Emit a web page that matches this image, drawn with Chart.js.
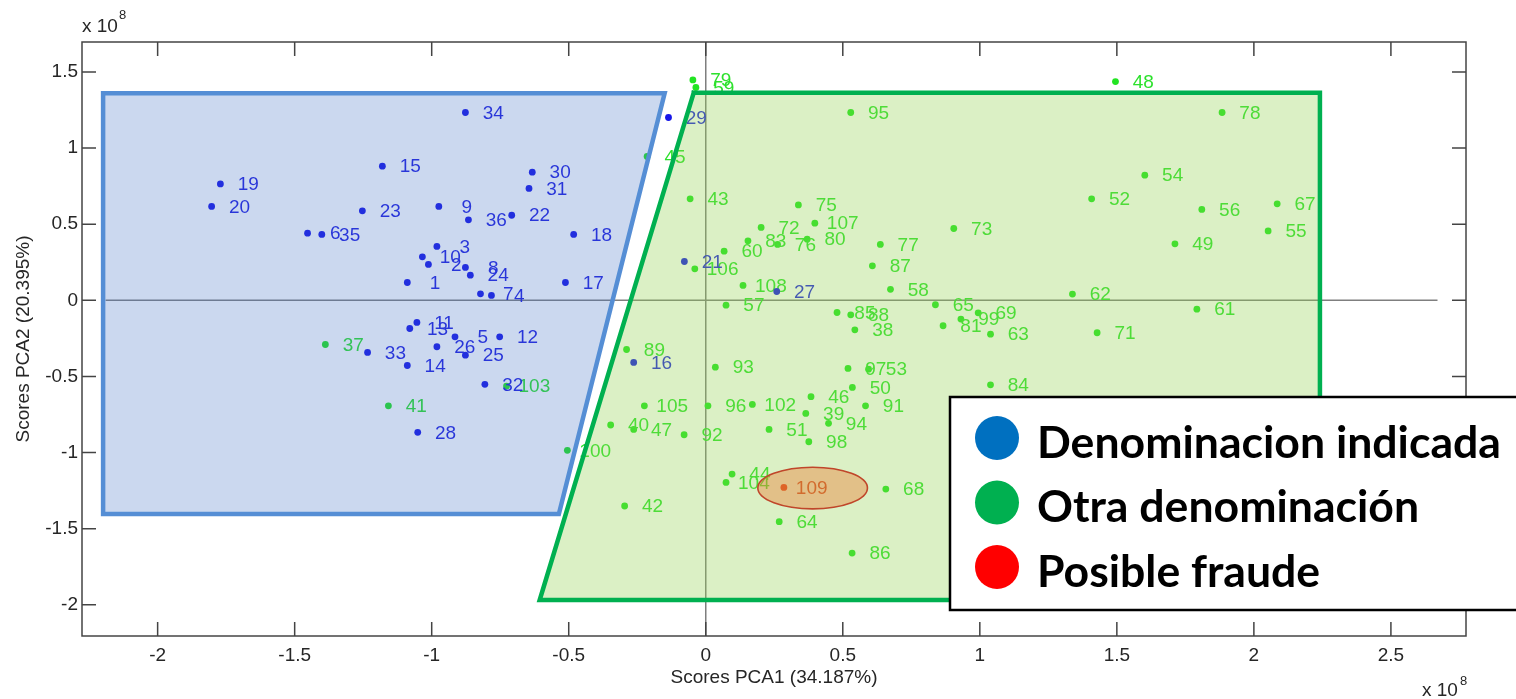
<!DOCTYPE html>
<html>
<head>
<meta charset="utf-8">
<title>Scores PCA</title>
<script src="https://cdn.jsdelivr.net/npm/chart.js@4.4.1/dist/chart.umd.min.js"></script>
<style>
  html, body { margin: 0; padding: 0; background: #fff; }
  canvas { display: block; }
</style>
</head>
<body>
<canvas id="pcaChart" width="1516" height="699"></canvas>
<script>
// scores in units of 1e8
const blueIds = [1, 2, 3, 4, 5, 6, 7, 8, 9, 10, 11, 12, 13, 14, 15, 16, 17, 18,
  19, 20, 21, 22, 23, 24, 25, 26, 27, 28, 29, 30, 31, 32, 33, 34, 35, 36];
const blueX = [-1.089, -1.012, -0.981, -0.782, -0.915, -1.453, -0.822, -0.877, -0.974, -1.034,
  -1.054, -0.752, -1.080, -1.089, -1.180, -0.263, -0.512, -0.482, -1.771, -1.803,
  -0.078, -0.708, -1.253, -0.859, -0.877, -0.981, 0.259, -1.051, -0.136, -0.633,
  -0.645, -0.806, -1.234, -0.877, -1.401, -0.866];
const blueY = [0.117, 0.236, 0.354, 0.032, -0.240, 0.441, 0.043, 0.216, 0.617, 0.286,
  -0.145, -0.240, -0.185, -0.428, 0.881, -0.408, 0.117, 0.433, 0.765, 0.617,
  0.255, 0.559, 0.588, 0.165, -0.360, -0.305, 0.058, -0.867, 1.201, 0.842,
  0.735, -0.552, -0.342, 1.234, 0.433, 0.529];

const greenIds = [37, 38, 39, 40, 41, 42, 43, 44, 45, 46, 47, 48, 49, 50, 51, 52, 53, 54,
  55, 56, 57, 58, 59, 60, 61, 62, 63, 64, 65, 67, 68, 69, 71, 72, 73, 75, 76, 77,
  78, 79, 80, 81, 83, 84, 85, 86, 87, 88, 89, 91, 92, 93, 94, 95, 96, 97, 98, 99,
  100, 102, 103, 104, 105, 106, 107, 108];
const greenX = [-1.388, 0.544, 0.365, -0.347, -1.158, -0.296, -0.057, 0.096, -0.214, 0.384,
  -0.263, 1.495, 1.712, 0.535, 0.231, 1.408, 0.594, 1.602, 2.052, 1.810,
  0.074, 0.674, -0.036, 0.067, 1.792, 1.338, 1.039, 0.268, 0.838, 2.085,
  0.657, 0.994, 1.428, 0.202, 0.905, 0.338, 0.262, 0.637, 1.884, -0.047,
  0.370, 0.866, 0.154, 1.039, 0.479, 0.534, 0.608, 0.529, -0.289, 0.583,
  -0.079, 0.035, 0.448, 0.529, 0.008, 0.519, 0.376, 0.931, -0.505, 0.170,
  -0.727, 0.074, -0.224, -0.040, 0.398, 0.136];
const greenY = [-0.290, -0.194, -0.743, -0.819, -0.693, -1.351, 0.667, -1.141, 0.945, -0.633,
  -0.848, 1.437, 0.371, -0.572, -0.848, 0.667, -0.452, 0.822, 0.456, 0.597,
  -0.032, 0.072, 1.398, 0.323, -0.058, 0.041, -0.222, -1.454, -0.029, 0.634,
  -1.240, -0.082, -0.213, 0.479, 0.472, 0.627, 0.367, 0.367, 1.234, 1.448,
  0.402, -0.167, 0.391, -0.555, -0.080, -1.660, 0.227, -0.095, -0.323, -0.693,
  -0.883, -0.439, -0.808, 1.234, -0.693, -0.447, -0.929, -0.123, -0.985, -0.684,
  -0.563, -1.196, -0.693, 0.207, 0.507, 0.098];

const redIds = [109];
const redX = [0.285];
const redY = [-1.229];

// group outlines and the highlight around the suspect sample
const blueZoneX = [-2.199, -0.150, -0.536, -2.199, -2.199];
const blueZoneY = [1.360, 1.360, -1.404, -1.404, 1.360];
const greenZoneX = [-0.044, 2.241, 2.241, -0.606, -0.044];
const greenZoneY = [1.364, 1.364, -1.969, -1.969, 1.364];
const fraudCenter = [0.39, -1.233];
const fraudRadius = [0.2, 0.137];

const xTitle = 'Scores PCA1 (34.187%)';
const yTitle = 'Scores PCA2 (20.395%)';
const legendItems = ['Denominacion indicada', 'Otra denominación', 'Posible fraude'];
const legendColors = ['#0070C0', '#00B050', '#FF0000'];

const AX_FONT = '"Liberation Sans", Arial, Helvetica, sans-serif';
const AX_COLOR = '#262626';

function toPoints(xs, ys) {
  return xs.map((x, i) => ({ x: x, y: ys[i] }));
}

function pointSet(ids, xs, ys, color, textColor) {
  return {
    data: toPoints(xs, ys),
    ids: ids,
    textColor: textColor,
    backgroundColor: color,
    borderWidth: 0,
    pointRadius: 3.4,
    order: 2
  };
}

function zoneSet(xs, ys, stroke, fillColor) {
  return {
    type: 'line',
    data: toPoints(xs, ys),
    borderColor: stroke,
    backgroundColor: fillColor,
    borderWidth: 4.5,
    borderJoinStyle: 'miter',
    borderCapStyle: 'square',
    pointRadius: 0,
    tension: 0,
    fill: 'shape',
    order: 0
  };
}

// numeric labels next to each sample, padded like fixed-width strings
const sampleLabels = {
  id: 'sampleLabels',
  afterDatasetDraw(chart, args) {
    const ds = chart.data.datasets[args.index];
    if (!ds.ids) return;
    const ctx = chart.ctx;
    ctx.save();
    ctx.font = '19px ' + AX_FONT;
    ctx.fillStyle = ds.textColor;
    ctx.textAlign = 'left';
    ctx.textBaseline = 'middle';
    args.meta.data.forEach((pt, i) => {
      ctx.fillText(String(ds.ids[i]).padStart(3, ' '), pt.x + 12, pt.y + 1);
    });
    ctx.restore();
  }
};

// zero lines behind everything
const zeroLines = {
  id: 'zeroLines',
  beforeDatasetsDraw(chart) {
    const { ctx, chartArea: a, scales: { x, y } } = chart;
    ctx.save();
    ctx.strokeStyle = '#7f7f7f';
    ctx.lineWidth = 1.5;
    ctx.beginPath();
    ctx.moveTo(x.getPixelForValue(-2.19), y.getPixelForValue(0));
    ctx.lineTo(x.getPixelForValue(2.67), y.getPixelForValue(0));
    ctx.moveTo(x.getPixelForValue(0), a.top);
    ctx.lineTo(x.getPixelForValue(0), a.bottom);
    ctx.stroke();
    ctx.restore();
  }
};

// highlight ellipse, axes box with inward ticks
const frame = {
  id: 'frame',
  afterDatasetsDraw(chart) {
    const { ctx, chartArea: a, scales: { x, y } } = chart;
    ctx.save();
    const cx = x.getPixelForValue(fraudCenter[0]);
    const cy = y.getPixelForValue(fraudCenter[1]);
    const rx = Math.abs(x.getPixelForValue(fraudCenter[0] + fraudRadius[0]) - cx);
    const ry = Math.abs(y.getPixelForValue(fraudCenter[1] + fraudRadius[1]) - cy);
    ctx.beginPath();
    ctx.ellipse(cx, cy, rx, ry, 0, 0, Math.PI * 2);
    ctx.fillStyle = 'rgba(237,125,49,0.42)';
    ctx.fill();
    ctx.strokeStyle = '#c0462a';
    ctx.lineWidth = 1.6;
    ctx.stroke();

    ctx.strokeStyle = '#444';
    ctx.lineWidth = 1.5;
    ctx.strokeRect(a.left, a.top, a.right - a.left, a.bottom - a.top);
    const tl = 14;
    ctx.beginPath();
    x.ticks.forEach(t => {
      const px = x.getPixelForValue(t.value);
      ctx.moveTo(px, a.bottom); ctx.lineTo(px, a.bottom - tl);
      ctx.moveTo(px, a.top); ctx.lineTo(px, a.top + tl);
    });
    y.ticks.forEach(t => {
      const py = y.getPixelForValue(t.value);
      ctx.moveTo(a.left, py); ctx.lineTo(a.left + tl, py);
      ctx.moveTo(a.right, py); ctx.lineTo(a.right - tl, py);
    });
    ctx.stroke();
    ctx.restore();
  },
  afterDraw(chart) {
    const { ctx, chartArea: a } = chart;
    ctx.save();
    // exponent markers
    ctx.fillStyle = AX_COLOR;
    ctx.textBaseline = 'alphabetic';
    ctx.textAlign = 'left';
    ctx.font = '19px ' + AX_FONT;
    ctx.fillText('x 10', a.left, 31.5);
    ctx.fillText('x 10', a.right - 44, 696);
    ctx.font = '13px ' + AX_FONT;
    ctx.fillText('8', a.left + 37, 18.5);
    ctx.fillText('8', a.right - 6, 685);

    // legend box
    const bx = 950, by = 397, bw = 600, bh = 213;
    ctx.fillStyle = '#fff';
    ctx.fillRect(bx, by, bw, bh);
    ctx.strokeStyle = '#000';
    ctx.lineWidth = 2.5;
    ctx.strokeRect(bx, by, bw, bh);
    ctx.font = 'bold 40px Lato, "Open Sans", sans-serif';
    const size = 40 * 464 / ctx.measureText(legendItems[0]).width;
    ctx.font = 'bold ' + size.toFixed(2) + 'px Lato, "Open Sans", sans-serif';
    const rows = [438, 502.5, 567];
    legendItems.forEach((txt, i) => {
      ctx.beginPath();
      ctx.ellipse(997, rows[i], 22, 22, 0, 0, Math.PI * 2);
      ctx.fillStyle = legendColors[i];
      ctx.fill();
      ctx.fillStyle = '#000';
      ctx.fillText(txt, 1037, rows[i] + 19.5);
    });
    ctx.restore();
  }
};

const tickFmt = v => String(Math.round(v * 10) / 10);

new Chart(document.getElementById('pcaChart'), {
  type: 'scatter',
  data: {
    datasets: [
      pointSet(blueIds, blueX, blueY, 'rgb(22,22,232)', 'rgb(30,30,225)'),
      pointSet(greenIds, greenX, greenY, 'rgb(34,228,34)', 'rgb(45,225,45)'),
      pointSet(redIds, redX, redY, 'rgb(245,20,10)', 'rgb(215,40,25)'),
      zoneSet(blueZoneX, blueZoneY, '#558ED5', 'rgba(68,114,196,0.28)'),
      zoneSet(greenZoneX, greenZoneY, '#00B050', 'rgba(146,208,80,0.33)')
    ]
  },
  options: {
    responsive: false,
    animation: false,
    devicePixelRatio: 1,
    layout: { padding: { top: 42, right: 50, left: 0, bottom: 0 } },
    plugins: {
      legend: { display: false },
      tooltip: { enabled: false }
    },
    scales: {
      x: {
        type: 'linear',
        min: -2.276,
        max: 2.774,
        afterFit: s => { s.height = 63; },
        grid: { display: false, drawTicks: false },
        border: { display: false },
        ticks: {
          stepSize: 0.5,
          includeBounds: false,
          autoSkip: false,
          maxRotation: 0,
          padding: 8,
          color: AX_COLOR,
          font: { family: AX_FONT, size: 19 },
          callback: tickFmt
        },
        title: {
          display: true,
          text: xTitle,
          color: AX_COLOR,
          font: { family: AX_FONT, size: 19 },
          padding: { top: 0, bottom: 10 }
        }
      },
      y: {
        type: 'linear',
        min: -2.205,
        max: 1.697,
        afterFit: s => { s.width = 82; },
        grid: { display: false, drawTicks: false },
        border: { display: false },
        ticks: {
          stepSize: 0.5,
          includeBounds: false,
          autoSkip: false,
          padding: 4,
          color: AX_COLOR,
          font: { family: AX_FONT, size: 19 },
          callback: tickFmt
        },
        title: {
          display: true,
          text: yTitle,
          color: AX_COLOR,
          font: { family: AX_FONT, size: 19 },
          padding: { top: 12, bottom: 0 }
        }
      }
    }
  },
  plugins: [zeroLines, sampleLabels, frame]
});
</script>
</body>
</html>
